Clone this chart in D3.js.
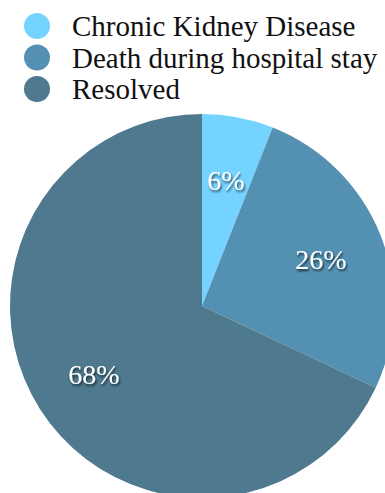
<!DOCTYPE html>
<html>
<head>
<meta charset="utf-8">
<script src="https://cdn.jsdelivr.net/npm/d3@7"></script>
<style>
    html, body { margin: 0; padding: 0; background: #fff; overflow: hidden; }
    svg { display: block; }
</style>
</head>
<body>
<div id="chart"></div>
<script>
'use strict';

const categories = ['Chronic Kidney Disease', 'Death during hospital stay', 'Resolved'];
const values = [6, 26, 68];
const colors = ['#75D4FF', '#5390B1', '#4E798F'];

const w = 385;
const h = 493;
const FONT = "'Liberation Serif'";

const svg = d3.select('#chart')
    .append('svg')
    .attr('width', w)
    .attr('height', h);

//soft drop shadow for slice labels
const defs = svg.append('defs');
defs.append('filter')
    .attr('id', 'shadow')
    .attr('x', '-20%').attr('y', '-20%')
    .attr('width', '140%').attr('height', '140%')
    .append('feDropShadow')
    .attr('dx', 1)
    .attr('dy', 2)
    .attr('stdDeviation', 1.3)
    .attr('flood-color', '#000')
    .attr('flood-opacity', 0.7);

//#region LEGEND
const legend = svg.append('g')
    .selectAll('g')
    .data(categories)
    .enter()
    .append('g')
    .attr('transform', (d, i) => `translate(37, ${26 + i * 31.5})`);

legend.append('circle')
    .attr('r', 13)
    .style('fill', (d, i) => colors[i]);

legend.append('text')
    .attr('x', 35)
    .attr('y', 10)
    .attr('font-family', FONT)
    .attr('font-size', 29)
    .style('fill', '#111')
    .text(d => d);
//#endregion

//#region PIE
const radius = 192;
const pie = d3.pie().sort(null)(values);
const arc = d3.arc().innerRadius(0).outerRadius(radius);
const labelArc = d3.arc().innerRadius(radius * 2 / 3).outerRadius(radius * 2 / 3);

const g = svg.append('g')
    .attr('transform', `translate(202, 306)`);

g.selectAll('path')
    .data(pie)
    .enter()
    .append('path')
    .attr('d', arc)
    .style('fill', (d, i) => colors[i]);

g.selectAll('.label')
    .data(pie)
    .enter()
    .append('text')
    .attr('class', 'label')
    .attr('transform', d => `translate(${labelArc.centroid(d)})`)
    .attr('text-anchor', 'middle')
    .attr('dy', '0.35em')
    .attr('font-family', FONT)
    .attr('font-size', 28)
    .attr('filter', 'url(#shadow)')
    .style('fill', '#fff')
    .text(d => `${d.data}%`);
//#endregion
</script>
</body>
</html>
